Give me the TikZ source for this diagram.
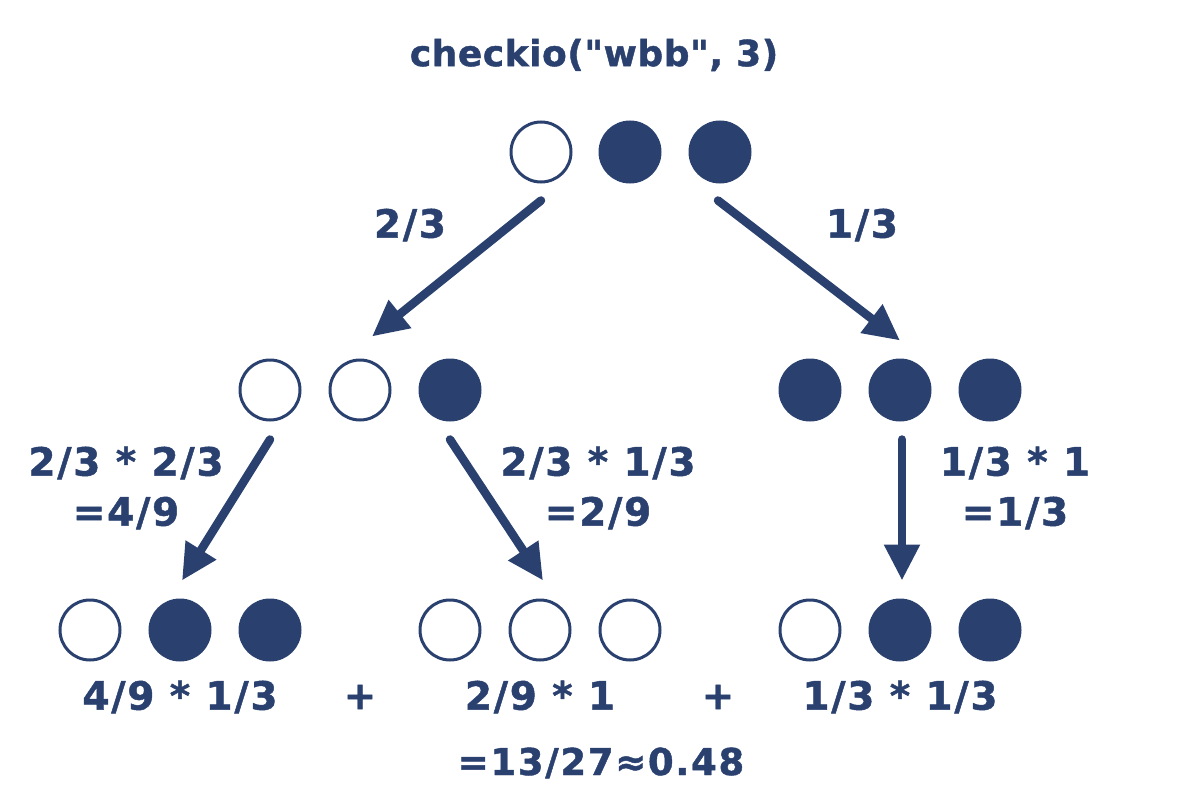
\documentclass[tikz,border=0pt]{standalone}
\usepackage{fontspec}
\setmainfont{DejaVu Sans}[BoldFont={DejaVu Sans Bold}]
\usetikzlibrary{arrows.meta}
\definecolor{navy}{RGB}{42,65,112}
\newfontfamily\lblfont{DejaVu Sans Bold}[LetterSpace=4.5,FakeBold=1.2]
\newfontfamily\ttlfont{DejaVu Sans Bold}[LetterSpace=1.5,FakeBold=1.2]
\begin{document}
\begin{tikzpicture}[x=1pt,y=-1pt,
  ball/.style={circle,minimum size=60pt,inner sep=0pt,line width=3pt,draw=navy},
  wc/.style={ball,fill=white},
  bc/.style={ball,fill=navy},
  arr/.style={draw=navy,line width=8.5pt,line cap=round,-{Triangle[length=36pt,width=34pt]}},
  lbl/.style={text=navy,font=\lblfont\fontsize{39}{50}\selectfont,align=center,inner sep=0pt}]
\useasboundingbox (0,0) rectangle (1200,800);
% title
\node[lbl,font=\ttlfont\fontsize{36}{44}\selectfont] (title) at (594,55) {checkio("wbb", 3)};
% top row
\node[wc] (t1) at (541,152) {};
\node[bc] (t2) at (630,152) {};
\node[bc] (t3) at (720,152) {};
% middle row
\node[wc] (m1) at (270,390) {};
\node[wc] (m2) at (360,390) {};
\node[bc] (m3) at (450,390) {};
\node[bc] (r1) at (810,390) {};
\node[bc] (r2) at (900,390) {};
\node[bc] (r3) at (990,390) {};
% bottom row
\node[wc] (b1) at (90,630) {};
\node[bc] (b2) at (180,630) {};
\node[bc] (b3) at (270,630) {};
\node[wc] (b4) at (450,630) {};
\node[wc] (b5) at (540,630) {};
\node[wc] (b6) at (630,630) {};
\node[wc] (b7) at (810,630) {};
\node[bc] (b8) at (900,630) {};
\node[bc] (b9) at (990,630) {};
% arrows
\draw[arr] ([yshift=-17pt]t1.south) -- ([xshift=12pt,yshift=22pt]m2.north);
\draw[arr] ([xshift=-2pt,yshift=-17pt]t3.south) -- ([yshift=18pt]r2.north);
\draw[arr] ([yshift=-18pt]m1.south) -- ([xshift=2pt,yshift=18pt]b2.north);
\draw[arr] ([yshift=-18pt]m3.south) -- ([xshift=3pt,yshift=18pt]b5.north);
\draw[arr] ([xshift=2pt,yshift=-18pt]r2.south) -- ([xshift=2pt,yshift=18pt]b8.north);
% labels
\node[lbl] (l1) at (410,225) {2/3};
\node[lbl] (l2) at (862,225) {1/3};
\node[lbl] (l3) at (126,488) {2/3 * 2/3\\=4/9};
\node[lbl] (l4) at (598,488) {2/3 * 1/3\\=2/9};
\node[lbl] (l5) at (1015,488) {1/3 * 1\\=1/3};
\node[lbl] (s1) at (180,697) {4/9 * 1/3};
\node[lbl] (p1) at (360,697) {+};
\node[lbl] (s2) at (540,697) {2/9 * 1};
\node[lbl] (p2) at (718,697) {+};
\node[lbl] (s3) at (900,697) {1/3 * 1/3};
\node[lbl,font=\lblfont\fontsize{37}{44}\selectfont] (res) at (601,763) {=13/27≈0.48};
\end{tikzpicture}
\end{document}
